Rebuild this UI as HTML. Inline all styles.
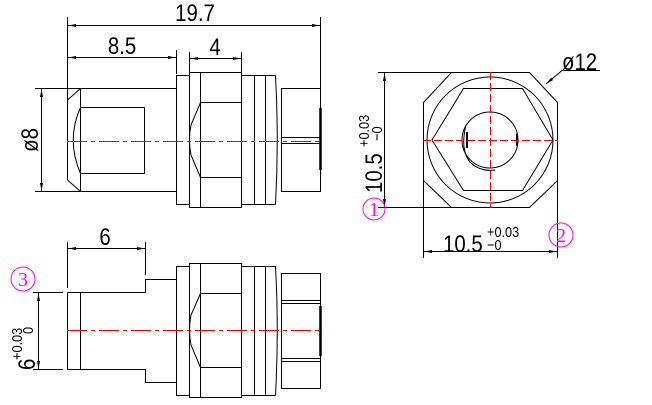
<!DOCTYPE html>
<html><head><meta charset="utf-8"><style>
html,body{margin:0;padding:0;background:#fff;width:652px;height:405px;overflow:hidden}
svg{display:block}
text{font-family:"Liberation Sans","DejaVu Sans",sans-serif;fill:#000}
</style></head><body>
<svg width="652" height="405" viewBox="0 0 652 405" xmlns="http://www.w3.org/2000/svg">
<defs>
<marker id="a" markerWidth="8" markerHeight="4" refX="8" refY="2" orient="auto" markerUnits="userSpaceOnUse"><path d="M0,0.5 L8,2 L0,3.5z" fill="#000"/></marker>
<marker id="b" markerWidth="8" markerHeight="4" refX="0" refY="2" orient="auto" markerUnits="userSpaceOnUse"><path d="M8,0.5 L0,2 L8,3.5z" fill="#000"/></marker>
</defs>
<g stroke="#000" stroke-width="1" fill="none">
<line x1="67.5" y1="17" x2="67.5" y2="100"/>
<line x1="320.5" y1="17" x2="320.5" y2="110"/>
<line x1="68" y1="25.5" x2="320" y2="25.5" marker-start="url(#b)" marker-end="url(#a)"/>
<line x1="176.5" y1="50" x2="176.5" y2="74"/>
<line x1="68" y1="57.5" x2="176" y2="57.5" marker-start="url(#b)" marker-end="url(#a)"/>
<line x1="189.5" y1="52" x2="189.5" y2="72"/>
<line x1="241.5" y1="52" x2="241.5" y2="72"/>
<line x1="190" y1="58.5" x2="241" y2="58.5" marker-start="url(#b)" marker-end="url(#a)"/>
<line x1="35" y1="88.5" x2="80" y2="88.5"/>
<line x1="35" y1="191.5" x2="80" y2="191.5"/>
<line x1="41.5" y1="89" x2="41.5" y2="191" marker-start="url(#b)" marker-end="url(#a)"/>
<path d="M80.5,88.5 H176.5 M80.5,191.5 H176.5 M80.5,88.5 V191.5 M67.5,100 L80.5,88.5 M67.5,180 L80.5,191.5 M67.5,100 V180"/>
<rect x="80.5" y="107.5" width="64" height="66"/>
<path d="M80.5,107.5 Q66,140 80.5,173.5"/>
<rect x="176.5" y="75.5" width="13" height="129"/>
<rect x="189.5" y="72.5" width="52" height="135"/>
<path d="M200.5,72.5 V207.5 M200.5,102.5 H241.5 M200.5,177.5 H241.5 M200.5,102.5 L191,125 Q188,140 191,155 L200.5,177.5"/>
<path d="M241.5,75.5 H275.5 M241.5,204.5 H275.5 M254.5,75.5 V204.5 M265.5,75.5 V204.5 M275.5,75.5 Q279,140 275.5,204.5"/>
<rect x="281.5" y="88.5" width="39" height="103"/>
<path d="M281.5,137.5 H320.5 M281.5,143.5 H320.5"/>
<line x1="320.5" y1="108" x2="320.5" y2="170" stroke-width="2.5"/>

<line x1="67.5" y1="242" x2="67.5" y2="288"/>
<line x1="145.5" y1="242" x2="145.5" y2="275"/>
<line x1="68" y1="248.5" x2="145" y2="248.5" marker-start="url(#b)" marker-end="url(#a)"/>
<line x1="33" y1="292.5" x2="63" y2="292.5"/>
<line x1="33" y1="369.5" x2="63" y2="369.5"/>
<line x1="38.5" y1="293" x2="38.5" y2="369" marker-start="url(#b)" marker-end="url(#a)"/>
<path d="M67.5,292.5 H145.5 V279.5 H176.5 M67.5,369.5 H145.5 V382.5 H176.5 M67.5,292.5 V369.5 M80.5,292.5 V369.5"/>
<rect x="176.5" y="266.5" width="13" height="129"/>
<rect x="189.5" y="263.5" width="52" height="134"/>
<path d="M200.5,263.5 V397.5 M200.5,293.5 H241.5 M200.5,367.5 H241.5 M200.5,293.5 L191,315 Q188,330 191,345 L200.5,367.5"/>
<path d="M241.5,266.5 H275.5 M241.5,395.5 H275.5 M254.5,266.5 V395.5 M265.5,266.5 V395.5 M275.5,266.5 Q279,330 275.5,395.5"/>
<rect x="281.5" y="273.5" width="39" height="115"/>
<path d="M281.5,300.5 H320.5 M281.5,303.5 H320.5 M281.5,358.5 H320.5 M281.5,361.5 H320.5"/>
<line x1="320.5" y1="306" x2="320.5" y2="356" stroke-width="2.5"/>

<polygon points="451.5,72.5 529.5,72.5 557.5,102.5 557.5,180.5 529.5,207.5 451.5,207.5 423.5,180.5 423.5,102.5"/>
<circle cx="490" cy="140" r="63"/>
<polygon points="463.5,88.5 522.5,88.5 553,140 522.5,190.5 463.5,190.5 432,140"/>
<circle cx="490" cy="140" r="28"/>
<path d="M466,125 Q460,150 470,162 Q480,172 495,170"/>
<line x1="467" y1="132" x2="467" y2="148" stroke-width="2"/>
<line x1="517" y1="134" x2="517" y2="146" stroke-width="2"/>
<line x1="378" y1="72.5" x2="451" y2="72.5"/>
<line x1="378" y1="207.5" x2="451" y2="207.5"/>
<line x1="384.5" y1="73" x2="384.5" y2="207" marker-start="url(#b)" marker-end="url(#a)"/>
<line x1="423.5" y1="180" x2="423.5" y2="258"/>
<line x1="557.5" y1="180" x2="557.5" y2="258"/>
<line x1="424" y1="251.5" x2="557" y2="251.5" marker-start="url(#b)" marker-end="url(#a)"/>
<line x1="600" y1="70.5" x2="562" y2="70.5"/>
<line x1="562" y1="70.5" x2="546" y2="84" marker-end="url(#a)"/>
</g>
<g stroke="#f00" stroke-width="1" fill="none" stroke-dasharray="20,4,4,4">
<line x1="67" y1="141.5" x2="321" y2="141.5"/>
<line x1="67" y1="330.5" x2="321" y2="330.5"/>
<line x1="423" y1="140.5" x2="558" y2="140.5" stroke-dasharray="8,3"/>
<line x1="490.5" y1="72" x2="490.5" y2="208" stroke-dasharray="8,3"/>
</g>
<g font-size="24">
<text transform="translate(195,21) scale(0.85,1)" text-anchor="middle">19.7</text>
<text transform="translate(122,54) scale(0.85,1)" text-anchor="middle">8.5</text>
<text transform="translate(215,55) scale(0.85,1)" text-anchor="middle">4</text>
<text transform="translate(105,245) scale(0.85,1)" text-anchor="middle">6</text>
<text transform="translate(38,140) rotate(-90) scale(0.85,1)" text-anchor="middle">ø8</text>
<text transform="translate(562,70) scale(0.85,1)">ø12</text>
<text transform="translate(382,193) rotate(-90) scale(0.85,1)">10.5</text>
<text transform="translate(443,252) scale(0.85,1)">10.5</text>
<text transform="translate(35,370) rotate(-90) scale(0.85,1)">6</text>
</g>
<g font-size="15">
<text transform="translate(369,147) rotate(-90) scale(0.85,1)">+0.03</text>
<text transform="translate(382,141) rotate(-90) scale(0.85,1)">−0</text>
<text transform="translate(487,237) scale(0.85,1)">+0.03</text>
<text transform="translate(487,250) scale(0.85,1)">−0</text>
<text transform="translate(22,360) rotate(-90) scale(0.85,1)">+0.03</text>
<text transform="translate(33,334) rotate(-90) scale(0.85,1)">0</text>
</g>
<g stroke="#f0f" fill="none" stroke-width="1">
<circle cx="374" cy="209" r="11"/>
<circle cx="561" cy="235" r="12"/>
<circle cx="23" cy="279" r="12"/>
</g>
<g font-size="20" text-anchor="middle" font-family="Liberation Serif, serif">
<text x="374" y="216" style="fill:#f0f;font-family:'Liberation Serif',serif">1</text>
<text x="561" y="242" style="fill:#f0f;font-family:'Liberation Serif',serif">2</text>
<text x="23" y="286" style="fill:#f0f;font-family:'Liberation Serif',serif">3</text>
</g>
</svg>
</body></html>
